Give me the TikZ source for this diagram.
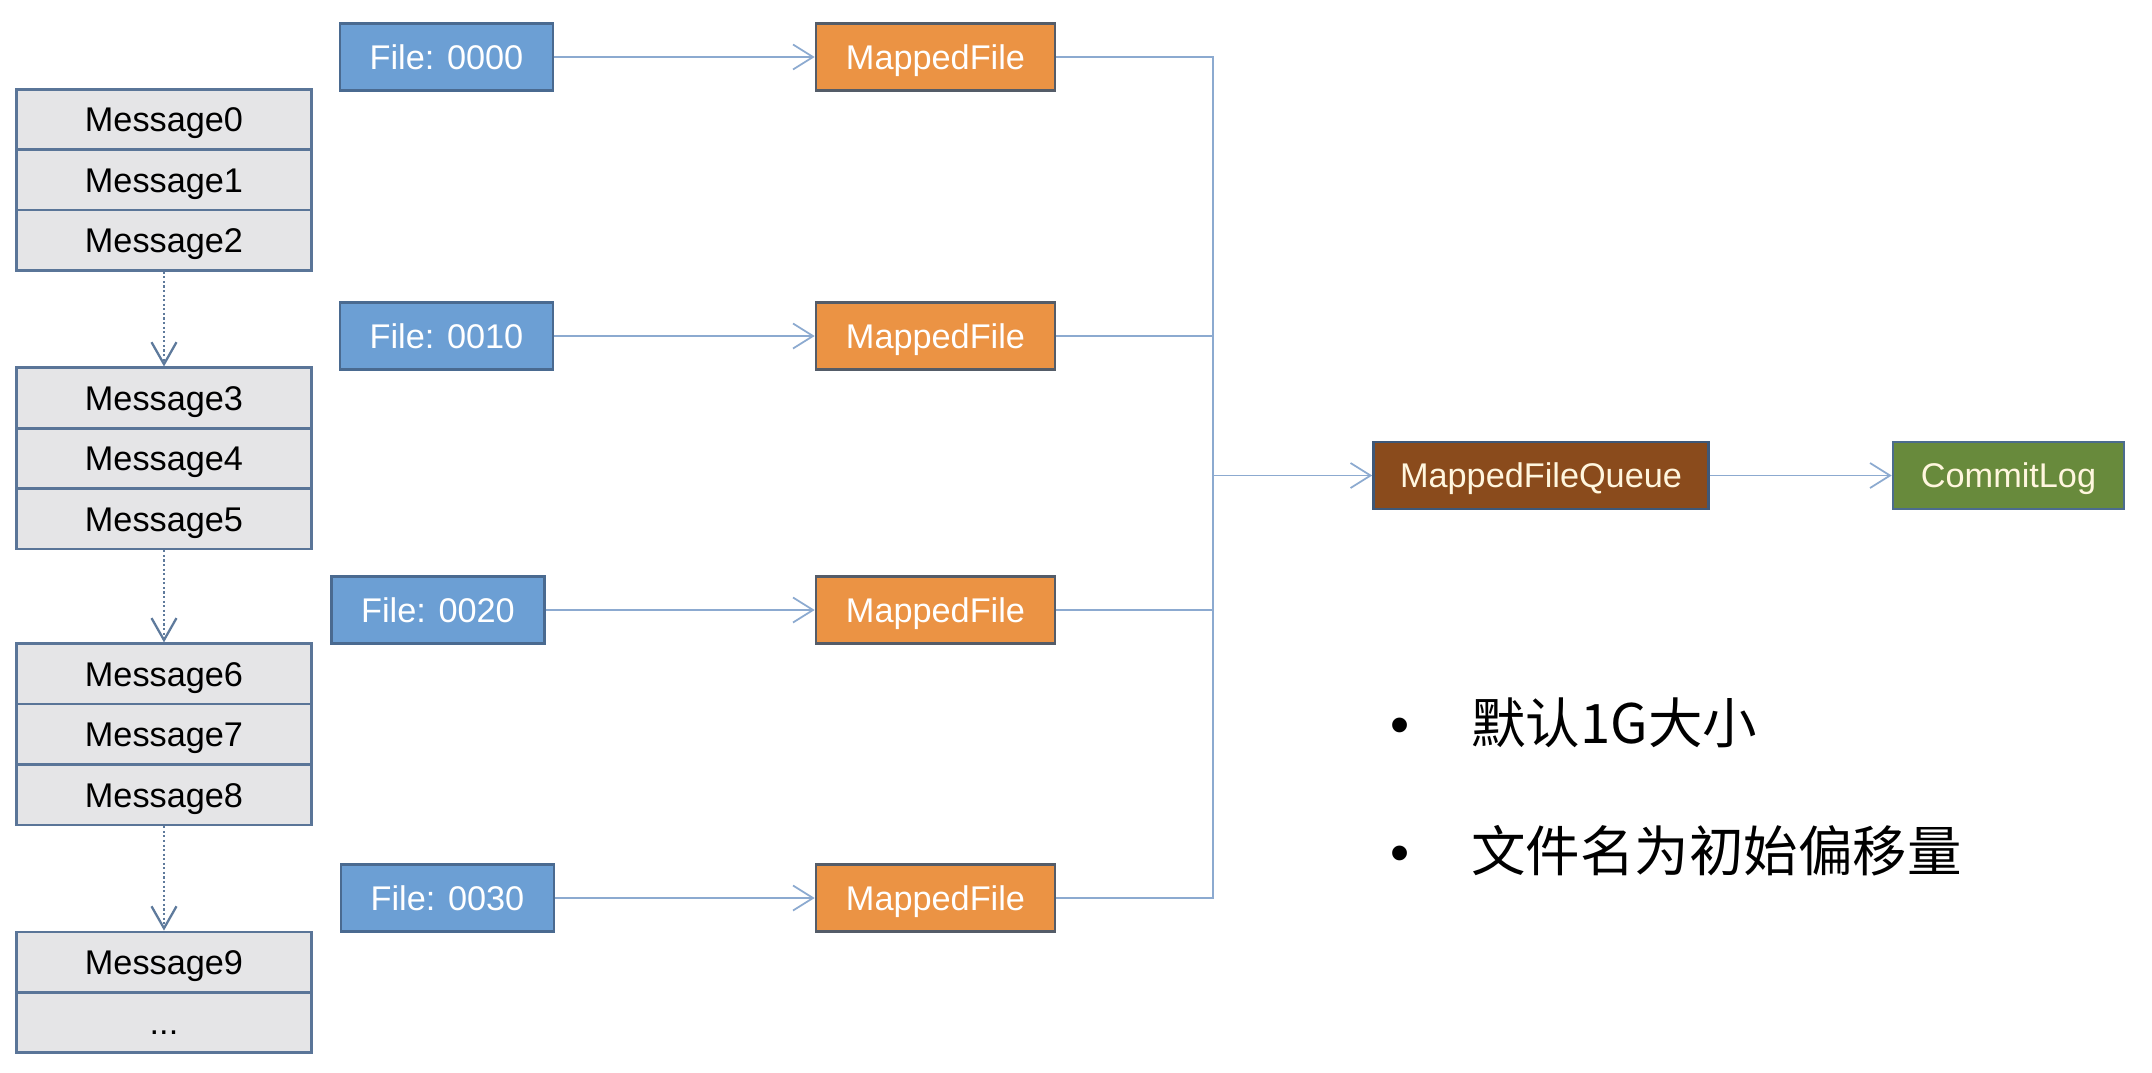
\documentclass[tikz,border=0pt]{standalone}
\usepackage{fontspec}
\setmainfont{Liberation Sans}
\newfontfamily\cjk{Noto Sans CJK SC}
\usetikzlibrary{arrows.meta}
\definecolor{msgfill}{HTML}{E5E5E7}
\definecolor{msgline}{HTML}{5A7598}
\definecolor{filefill}{HTML}{6C9FD4}
\definecolor{fileline}{HTML}{4A6A90}
\definecolor{mapfill}{HTML}{EB9344}
\definecolor{mapline}{HTML}{545C68}
\definecolor{queuefill}{HTML}{8A4B1C}
\definecolor{queueline}{HTML}{3E5878}
\definecolor{logfill}{HTML}{688A3C}
\definecolor{logline}{HTML}{4C6C8E}
\definecolor{cream}{HTML}{FFF6DE}
\definecolor{linkcol}{HTML}{8CAAD0}
\definecolor{dotcol}{HTML}{5E7A9C}
\begin{document}
\begin{tikzpicture}[x=0.2mm,y=-0.2mm,
    box/.style={draw,line width=1.5pt,inner sep=0pt,minimum height=13.4mm,
      text height=14pt,text depth=0pt,font=\fontsize{19.5pt}{23pt}\selectfont},
    msg/.style={box,fill=msgfill,draw=msgline,minimum width=59mm,minimum height=12.08mm},
    filebox/.style={box,fill=filefill,draw=fileline,text=white,minimum width=42.6mm},
    mapbox/.style={box,fill=mapfill,draw=mapline,text=white,minimum width=47.8mm},
    queuebox/.style={box,fill=queuefill,draw=queueline,text=cream,minimum width=67mm},
    logbox/.style={box,fill=logfill,draw=logline,text=cream,minimum width=46.2mm},
    link/.style={draw=linkcol,line width=1pt},
    flow/.style={link,-{Straight Barb[length=4mm,width=5mm,line width=1pt]}},
    dotlink/.style={draw=dotcol,line width=1.2pt,dash pattern=on 1.2pt off 1.4pt,
      -{Straight Barb[length=4.4mm,width=5mm,line width=1.3pt]}},
    note/.style={inner sep=0pt,anchor=west,font=\fontsize{31pt}{36pt}\selectfont}]
  \useasboundingbox (0,0) rectangle (2152,1072);

  % message blocks
  \path
    (164,119.4) node[msg] (m0) {Message0}
    (164,179.8) node[msg] (m1) {Message1}
    (164,240.2) node[msg] (m2) {Message2}
    (164,398.0) node[msg] (m3) {Message3}
    (164,458.4) node[msg] (m4) {Message4}
    (164,518.8) node[msg] (m5) {Message5}
    (164,673.9) node[msg] (m6) {Message6}
    (164,734.3) node[msg] (m7) {Message7}
    (164,794.7) node[msg] (m8) {Message8}
    (164,962.1) node[msg] (m9) {Message9}
    (164,1022.5) node[msg] (mx) {...};

  % files and mapped files
  \path
    (446.5,57) node[filebox] (f0) {File: 0000}
    (446.5,336) node[filebox] (f1) {File: 0010}
    (438,610) node[filebox] (f2) {File: 0020}
    (447.5,898) node[filebox] (f3) {File: 0030}
    (935.5,57) node[mapbox] (mf0) {MappedFile}
    (935.5,336) node[mapbox] (mf1) {MappedFile}
    (935.5,610) node[mapbox] (mf2) {MappedFile}
    (935.5,898) node[mapbox] (mf3) {MappedFile};

  \node[queuebox] (mfq) at (1541,475.5) {MappedFileQueue};
  \node[logbox] (log) at (2008.5,475.5) {CommitLog};
  \coordinate (join) at (1213,475.5);

  \node[note] (n1) at (1390.5,723) {•\hspace{12.3mm}{\cjk 默认1G大小}};
  \node[note] (n2) at (1390.5,851) {•\hspace{12.3mm}{\cjk 文件名为初始偏移量}};

  \begin{scope}[dotlink]
    \draw (m2) -- (m3);
    \draw (m5) -- (m6);
    \draw (m8) -- (m9);
  \end{scope}
  \begin{scope}[flow]
    \draw (f0) -- (mf0);
    \draw (f1) -- (mf1);
    \draw (f2) -- (mf2);
    \draw (f3) -- (mf3);
    \draw (join) -- (mfq);
    \draw (mfq) -- (log);
  \end{scope}
  \begin{scope}[link]
    \draw (mf0.east) -| (join);
    \draw (mf1.east) -| (join);
    \draw (mf2.east) -| (join);
    \draw (mf3.east) -| (join);
  \end{scope}
\end{tikzpicture}
\end{document}
